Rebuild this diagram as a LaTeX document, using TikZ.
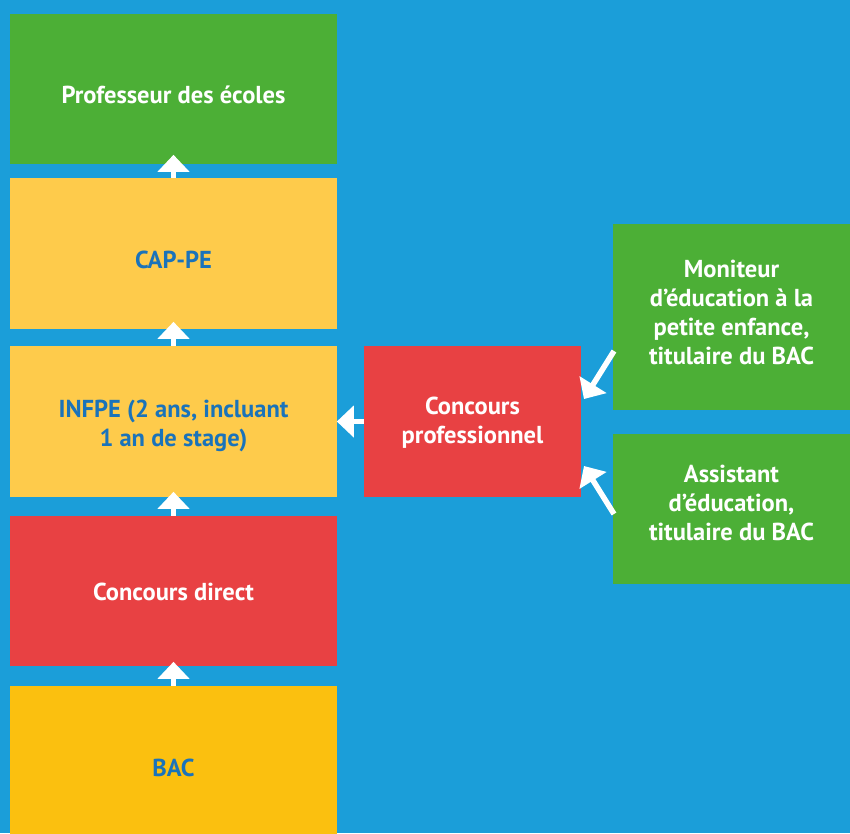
\documentclass[tikz,border=0pt]{standalone}
\usepackage{fontspec}
\setmainfont{PT Sans}
\usepackage{tikz}
\usetikzlibrary{arrows.meta}

\definecolor{fond}{HTML}{1B9ED9}
\definecolor{vert}{HTML}{4CAF36}
\definecolor{jaune}{HTML}{FECB4B}
\definecolor{rouge}{HTML}{E84143}
\definecolor{jaunebac}{HTML}{FBC00F}
\definecolor{bleutexte}{HTML}{1A73BA}

\tikzset{
  boite/.style={minimum width=327pt, minimum height=150pt, inner sep=0pt},
  texte/.style={align=center, inner sep=0pt, font=\fontsize{24.5}{29}\selectfont\bfseries},
  blanc/.style={texte, text=white},
  bleu/.style={texte, text=bleutexte},
  fleche/.style={white, line width=5.5pt, -{Triangle[width=31pt,length=17pt]}}
}

\begin{document}
\begin{tikzpicture}[x=1pt,y=-1pt]
        % fond bleu
        \fill[fond] (0,0) rectangle (850,833);
        \useasboundingbox (0,0) rectangle (850,833);

        % colonne de gauche
        \node[boite, fill=vert, label={[blanc, yshift=-6pt]center:Professeur des écoles}] (prof) at (173.5,89) {};
        \node[boite, fill=jaune, minimum height=151pt, label={[bleu, yshift=-6.5pt]center:CAP-PE}] (cap) at (173.5,253.5) {};
        \node[boite, fill=jaune, minimum height=151pt, label={[bleu, yshift=-4pt]center:{INFPE (2 ans, incluant\\1 an de stage)}}] (infpe) at (173.5,421.5) {};
        \node[boite, fill=rouge, label={[blanc, yshift=-1pt]center:Concours direct}] (cdirect) at (173.5,591) {};
        \node[boite, fill=jaunebac, minimum height=148pt, label={[bleu, yshift=-8pt]center:BAC}] (bac) at (173.5,760) {};

        % concours professionnel
        \node[boite, fill=rouge, minimum width=217pt, minimum height=151pt, label={[blanc, yshift=-1.5pt]center:{Concours\\professionnel}}] (cpro) at (472.5,421.5) {};

        % colonne de droite
        \node[boite, fill=vert, minimum width=237pt, minimum height=186pt, label={[blanc, yshift=4.5pt]center:{Moniteur\\d’éducation à la\\petite enfance,\\titulaire du BAC}}] (moniteur) at (731.5,317) {};
        \node[boite, fill=vert, minimum width=237pt, label={[blanc, yshift=6.5pt]center:{Assistant\\d’éducation,\\titulaire du BAC}}] (assistant) at (731.5,509) {};

        % points des fleches obliques
        \coordinate (depmon) at (614,351);
        \coordinate (arrmon) at (584,399);
        \coordinate (depass) at (614,514);
        \coordinate (arrass) at (584,466);

        % fleches
        \draw[fleche] (bac.north) -- ++(0,-24);
        \draw[fleche] (cdirect.north) -- ++(0,-24);
        \draw[fleche] (infpe.north) -- ++(0,-24);
        \draw[fleche] (cap.north) -- ++(0,-23);
        \draw[fleche] (cpro.west) -- ++(-27,0);
        \draw[fleche] (depmon) -- (arrmon);
        \draw[fleche] (depass) -- (arrass);
    \end{tikzpicture}
\end{document}
